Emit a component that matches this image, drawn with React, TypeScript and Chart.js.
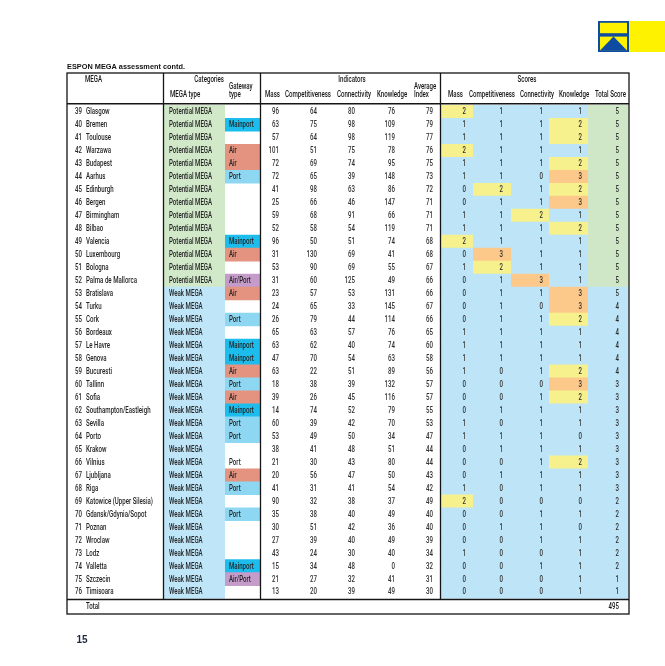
import React, { useEffect, useRef } from 'react';
import { Chart, registerables } from 'chart.js';

Chart.register(...registerables);

// ---------------- DATA ----------------
const rowNumbers = [39, 40, 41, 42, 43, 44, 45, 46, 47, 48, 49, 50, 51, 52, 53, 54, 55, 56, 57, 58, 59, 60, 61, 62, 63, 64, 65, 66, 67, 68, 69, 70, 71, 72, 73, 74, 75, 76];

const megaNames = [
  'Glasgow', 'Bremen', 'Toulouse', 'Warzawa', 'Budapest', 'Aarhus', 'Edinburgh', 'Bergen', 'Birmingham', 'Bilbao',
  'Valencia', 'Luxembourg', 'Bologna', 'Palma de Mallorca', 'Bratislava', 'Turku', 'Cork', 'Bordeaux', 'Le Havre', 'Genova',
  'Bucuresti', 'Tallinn', 'Sofia', 'Southampton/Eastleigh', 'Sevilla', 'Porto', 'Krakow', 'Vilnius', 'Ljubljana', 'Riga',
  'Katowice (Upper Silesia)', 'Gdansk/Gdynia/Sopot', 'Poznan', 'Wroclaw', 'Lodz', 'Valletta', 'Szczecin', 'Timisoara',
];

const megaTypes = [
  'Potential MEGA', 'Potential MEGA', 'Potential MEGA', 'Potential MEGA', 'Potential MEGA', 'Potential MEGA', 'Potential MEGA',
  'Potential MEGA', 'Potential MEGA', 'Potential MEGA', 'Potential MEGA', 'Potential MEGA', 'Potential MEGA', 'Potential MEGA',
  'Weak MEGA', 'Weak MEGA', 'Weak MEGA', 'Weak MEGA', 'Weak MEGA', 'Weak MEGA', 'Weak MEGA', 'Weak MEGA', 'Weak MEGA', 'Weak MEGA',
  'Weak MEGA', 'Weak MEGA', 'Weak MEGA', 'Weak MEGA', 'Weak MEGA', 'Weak MEGA', 'Weak MEGA', 'Weak MEGA', 'Weak MEGA', 'Weak MEGA',
  'Weak MEGA', 'Weak MEGA', 'Weak MEGA', 'Weak MEGA',
];

const gatewayTypes = [
  '', 'Mainport', '', 'Air', 'Air', 'Port', '', '', '', '',
  'Mainport', 'Air', '', 'Air/Port', 'Air', '', 'Port', '', 'Mainport', 'Mainport',
  'Air', 'Port', 'Air', 'Mainport', 'Port', 'Port', '', 'Port', 'Air', 'Port',
  '', 'Port', '', '', '', 'Mainport', 'Air/Port', '',
];
// gateway cells printed without shading (row numbers)
const unshadedGatewayRows = [66];

const massIndicator = [96, 63, 57, 101, 72, 72, 41, 25, 59, 52, 96, 31, 53, 31, 23, 24, 26, 65, 63, 47, 63, 18, 39, 14, 60, 53, 38, 21, 20, 41, 90, 35, 30, 27, 43, 15, 21, 13];
const competitivenessIndicator = [64, 75, 64, 51, 69, 65, 98, 66, 68, 58, 50, 130, 90, 60, 57, 65, 79, 63, 62, 70, 22, 38, 26, 74, 39, 49, 41, 30, 56, 31, 32, 38, 51, 39, 24, 34, 27, 20];
const connectivityIndicator = [80, 98, 98, 75, 74, 39, 63, 46, 91, 54, 51, 69, 69, 125, 53, 33, 44, 57, 40, 54, 51, 39, 45, 52, 42, 50, 48, 43, 47, 41, 38, 40, 42, 40, 30, 48, 32, 39];
const knowledgeIndicator = [76, 109, 119, 78, 95, 148, 86, 147, 66, 119, 74, 41, 55, 49, 131, 145, 114, 76, 74, 63, 89, 132, 116, 79, 70, 34, 51, 80, 50, 54, 37, 49, 36, 49, 40, 0, 41, 49];
const averageIndex = [79, 79, 77, 76, 75, 73, 72, 71, 71, 71, 68, 68, 67, 66, 66, 67, 66, 65, 60, 58, 56, 57, 57, 55, 53, 47, 44, 44, 43, 42, 49, 40, 40, 39, 34, 32, 31, 30];

const massScore = [2, 1, 1, 2, 1, 1, 0, 0, 1, 1, 2, 0, 1, 0, 0, 0, 0, 1, 1, 1, 1, 0, 0, 0, 1, 1, 0, 0, 0, 1, 2, 0, 0, 0, 1, 0, 0, 0];
const competitivenessScore = [1, 1, 1, 1, 1, 1, 2, 1, 1, 1, 1, 3, 2, 1, 1, 1, 1, 1, 1, 1, 0, 0, 0, 1, 0, 1, 1, 0, 1, 0, 0, 0, 1, 0, 0, 0, 0, 0];
const connectivityScore = [1, 1, 1, 1, 1, 0, 1, 1, 2, 1, 1, 1, 1, 3, 1, 0, 1, 1, 1, 1, 1, 0, 1, 1, 1, 1, 1, 1, 1, 1, 0, 1, 1, 1, 0, 1, 0, 0];
const knowledgeScore = [1, 2, 2, 1, 2, 3, 2, 3, 1, 2, 1, 1, 1, 1, 3, 3, 2, 1, 1, 1, 2, 3, 2, 1, 1, 0, 1, 2, 1, 1, 0, 1, 0, 1, 1, 1, 1, 1];
const totalScore = [5, 5, 5, 5, 5, 5, 5, 5, 5, 5, 5, 5, 5, 5, 5, 4, 4, 4, 4, 4, 4, 3, 3, 3, 3, 3, 3, 3, 3, 3, 2, 2, 2, 2, 2, 2, 1, 1];
const grandTotal = 495;

// header texts
const pageTitle = 'ESPON MEGA assessment contd.';
const pageNumber = '15';
const indicatorHeaders = ['Mass', 'Competitiveness', 'Connectivity', 'Knowledge'];
const scoreHeaders = ['Mass', 'Competitiveness', 'Connectivity', 'Knowledge', 'Total Score'];

// ---------------- LAYOUT / STYLE ----------------
const W = 665;
const H = 666;
const ROW0 = 111.8;
const ROWH = 12.98;
const Y_MIN = -ROW0 / ROWH;
const Y_MAX = Y_MIN + H / ROWH;
const TOTAL_ROW_POS = 38.15;

const T = { left: 67, right: 629, top: 73, headBottom: 103.8, totalTop: 599.5, bottom: 614 };
const V_LINES = [163.5, 260.5, 440.5];
const CELL = {
  typeL: 164, typeR: 225, gateR: 260.5,
  scoreEdges: [440.5, 473, 511, 549, 588, 628.5],
};
const TXT_X = {
  num: 75, name: 86, type: 169, gate: 229,
  indRight: [279, 317, 355, 395, 433],
  scoreRight: [466, 503, 543, 582, 619],
};

const C = {
  green: '#d1e8c9',
  lightBlue: '#bfe5f8',
  scoreBlue: '#bde4f7',
  yellow: '#f6f18d',
  orange: '#fdc98b',
  mainport: '#1cbdec',
  port: '#8ed7f3',
  air: '#e3937f',
  airport: '#c59bca',
  totalGreen: '#d0e7c7',
  line: '#151515',
  text: '#262626',
  num: '#303030',
  head: '#161616',
  logoBlue: '#0d4ca2',
  logoYellow: '#fff200',
};

const gatewayColor = (g: string) =>
  g === 'Mainport' ? C.mainport : g === 'Port' ? C.port : g === 'Air' ? C.air : C.airport;
const scoreColor = (v: number) => (v >= 3 ? C.orange : v === 2 ? C.yellow : C.scoreBlue);
const isPotential = (t: string) => t.startsWith('Potential');

const FONT = 'Roboto, "Liberation Sans", sans-serif';
const SX = 0.72;

function drawText(
  ctx: CanvasRenderingContext2D,
  s: string,
  x: number,
  y: number,
  align: 'left' | 'right' | 'center',
  o: { size?: number; weight?: string; family?: string; sx?: number; color?: string; fitWidth?: number } = {}
) {
  const size = o.size ?? 8.5;
  const weight = o.weight ?? '500';
  const family = o.family ?? FONT;
  ctx.save();
  ctx.font = `${weight} ${size}px ${family}`;
  ctx.fillStyle = o.color ?? C.text;
  ctx.textBaseline = 'middle';
  ctx.textAlign = 'left';
  const raw = ctx.measureText(s).width;
  const sx = o.fitWidth ? o.fitWidth / raw : o.sx ?? SX;
  const w = raw * sx;
  const x0 = align === 'left' ? x : align === 'right' ? x - w : x - w / 2;
  ctx.translate(x0, y);
  ctx.scale(sx, 1);
  ctx.fillText(s, 0, 0);
  ctx.restore();
}

const barBase = { grouped: false, barThickness: 13.6, borderWidth: 0, inflateAmount: 0 } as any;

function buildDatasets() {
  const ds: any[] = [];
  ds.push({
    ...barBase,
    label: 'MEGA type',
    data: megaTypes.map((_, i) => ({ x: [CELL.typeL, CELL.typeR], y: i })),
    backgroundColor: megaTypes.map((t) => (isPotential(t) ? C.green : C.lightBlue)),
  });
  const gData: any[] = [];
  const gCol: string[] = [];
  gatewayTypes.forEach((g, i) => {
    if (g && !unshadedGatewayRows.includes(rowNumbers[i])) {
      gData.push({ x: [CELL.typeR, CELL.gateR], y: i });
      gCol.push(gatewayColor(g));
    }
  });
  ds.push({ ...barBase, label: 'Gateway', data: gData, backgroundColor: gCol });
  const scoreSets = [massScore, competitivenessScore, connectivityScore, knowledgeScore];
  scoreSets.forEach((arr, k) => {
    ds.push({
      ...barBase,
      label: scoreHeaders[k],
      data: arr.map((_, i) => ({ x: [CELL.scoreEdges[k], CELL.scoreEdges[k + 1]], y: i })),
      backgroundColor: arr.map(scoreColor),
    });
  });
  ds.push({
    ...barBase,
    label: 'Total Score',
    data: totalScore.map((_, i) => ({ x: [CELL.scoreEdges[4], CELL.scoreEdges[5]], y: i })),
    backgroundColor: megaTypes.map((t) => (isPotential(t) ? C.totalGreen : C.scoreBlue)),
  });
  return ds;
}

const tablePlugin = {
  id: 'tablePlugin',
  beforeDraw(chart: any) {
    const ctx = chart.ctx as CanvasRenderingContext2D;
    ctx.save();
    ctx.fillStyle = '#ffffff';
    ctx.fillRect(0, 0, chart.width, chart.height);
    ctx.restore();
  },
  afterDatasetsDraw(chart: any) {
    const ctx = chart.ctx as CanvasRenderingContext2D;
    const xs = chart.scales.x;
    const ys = chart.scales.y;
    const px = (v: number) => xs.getPixelForValue(v);
    const py = (v: number) => ys.getPixelForValue(v);

    // ---- logo ----
    ctx.save();
    ctx.fillStyle = C.logoYellow;
    ctx.fillRect(598, 21, 67, 31);
    ctx.fillStyle = C.logoBlue;
    ctx.fillRect(598, 21, 31, 31);
    ctx.fillStyle = C.logoYellow;
    ctx.fillRect(600, 22.8, 27, 10.4);
    ctx.fillRect(600, 36.6, 27, 13.6);
    ctx.fillStyle = C.logoBlue;
    ctx.beginPath();
    ctx.moveTo(600, 50.4);
    ctx.lineTo(613.5, 36.6);
    ctx.lineTo(627, 50.4);
    ctx.closePath();
    ctx.fill();
    ctx.restore();

    // ---- title & page number ----
    drawText(ctx, pageTitle, 67, 67, 'left', { size: 8, weight: 'bold', family: '"Liberation Sans", Arial, sans-serif', fitWidth: 118, color: '#111' });
    drawText(ctx, pageNumber, 76.5, 640.5, 'left', { size: 10, weight: 'bold', family: '"Liberation Sans", Arial, sans-serif', sx: 1, color: '#1d2740' });

    // ---- grid lines ----
    ctx.save();
    ctx.strokeStyle = C.line;
    ctx.lineWidth = 1.3;
    ctx.strokeRect(px(T.left), T.top, px(T.right) - px(T.left), T.bottom - T.top);
    V_LINES.forEach((x) => {
      ctx.beginPath();
      ctx.moveTo(px(x), T.top);
      ctx.lineTo(px(x), T.totalTop);
      ctx.stroke();
    });
    ctx.lineWidth = 1.6;
    [T.headBottom, T.totalTop].forEach((y) => {
      ctx.beginPath();
      ctx.moveTo(px(T.left), y);
      ctx.lineTo(px(T.right), y);
      ctx.stroke();
    });
    ctx.restore();

    // ---- headers ----
    const hc = { color: C.head };
    drawText(ctx, 'MEGA', 85, 80, 'left', hc);
    drawText(ctx, 'Categories', 224, 80, 'right', hc);
    drawText(ctx, 'Gateway', 229, 86.5, 'left', hc);
    drawText(ctx, 'type', 229, 95, 'left', hc);
    drawText(ctx, 'MEGA type', 170, 95, 'left', hc);
    drawText(ctx, 'Indicators', 352, 80, 'center', hc);
    const indHX = [265, 285, 337, 377];
    indicatorHeaders.forEach((h, k) => drawText(ctx, h, indHX[k], 95, 'left', hc));
    drawText(ctx, 'Average', 414, 86.5, 'left', hc);
    drawText(ctx, 'Index', 414, 95, 'left', hc);
    drawText(ctx, 'Scores', 527, 80, 'center', hc);
    const scHX = [448, 469, 520, 559, 595];
    scoreHeaders.forEach((h, k) => drawText(ctx, h, scHX[k], 95, 'left', hc));

    // ---- rows ----
    const indSets = [massIndicator, competitivenessIndicator, connectivityIndicator, knowledgeIndicator, averageIndex];
    const scSets = [massScore, competitivenessScore, connectivityScore, knowledgeScore, totalScore];
    rowNumbers.forEach((n, i) => {
      const y = py(i) + 0.3;
      drawText(ctx, String(n), px(TXT_X.num), y, 'left');
      drawText(ctx, megaNames[i], px(TXT_X.name), y, 'left');
      drawText(ctx, megaTypes[i], px(TXT_X.type), y, 'left');
      if (gatewayTypes[i]) drawText(ctx, gatewayTypes[i], px(TXT_X.gate), y, 'left');
      indSets.forEach((arr, k) => drawText(ctx, String(arr[i]), px(TXT_X.indRight[k]), y, 'right', { color: C.num }));
      scSets.forEach((arr, k) => drawText(ctx, String(arr[i]), px(TXT_X.scoreRight[k]), y, 'right', { color: C.num }));
    });

    // ---- total row ----
    const ty = py(TOTAL_ROW_POS);
    drawText(ctx, 'Total', px(TXT_X.name), ty, 'left', hc);
    drawText(ctx, String(grandTotal), px(TXT_X.scoreRight[4]), ty, 'right', hc);
  },
};

export default function App() {
  const ref = useRef<HTMLCanvasElement>(null);
  useEffect(() => {
    if (!ref.current) return;
    const chart = new Chart(ref.current, {
      type: 'bar',
      data: { datasets: buildDatasets() },
      options: {
        indexAxis: 'y',
        animation: false,
        responsive: false,
        devicePixelRatio: 1,
        events: [],
        layout: { padding: 0 },
        plugins: { legend: { display: false }, tooltip: { enabled: false }, title: { display: false } },
        scales: {
          x: { type: 'linear', min: 0, max: W, display: false, offset: false },
          y: { type: 'linear', min: Y_MIN, max: Y_MAX, reverse: true, display: false, offset: false },
        },
      } as any,
      plugins: [tablePlugin],
    });
    return () => chart.destroy();
  }, []);
  return (
    <div style={{ position: 'fixed', left: 0, top: 0, width: W, height: H, background: '#fff' }}>
      <canvas ref={ref} width={W} height={H} style={{ display: 'block', width: W, height: H }} />
    </div>
  );
}
